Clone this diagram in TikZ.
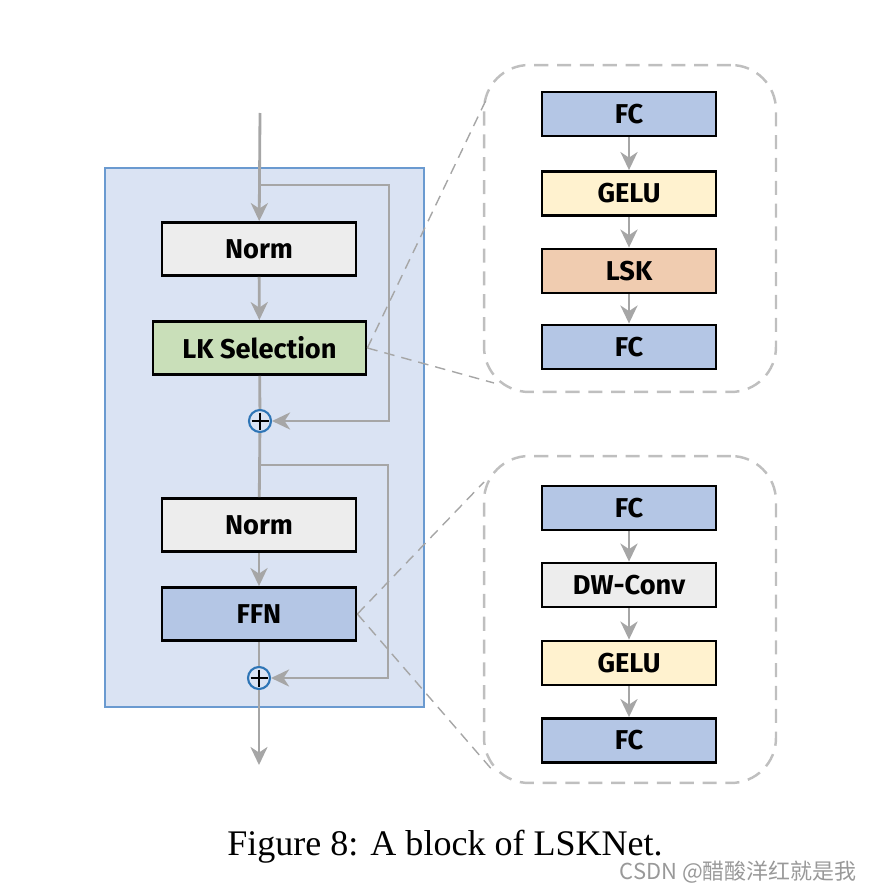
\documentclass[tikz,border=0pt]{standalone}
\usepackage{fontspec}
\setmainfont{Liberation Serif}
\newfontfamily\boxfont{Fira Sans}
\newfontfamily\cjk{Noto Sans CJK SC}
\usetikzlibrary{arrows.meta,calc}

\definecolor{bgblue}{HTML}{DAE3F3}
\definecolor{edgeblue}{HTML}{6A9AD0}
\definecolor{plusblue}{HTML}{2E75B6}
\definecolor{normgray}{HTML}{EDEDED}
\definecolor{lkgreen}{HTML}{C9DFB9}
\definecolor{fcblue}{HTML}{B4C6E5}
\definecolor{geluyellow}{HTML}{FFF2CF}
\definecolor{lskorange}{HTML}{F0CCB0}
\definecolor{arrgray}{HTML}{A6A6A6}
\definecolor{dashgray}{HTML}{BFBFBF}

\begin{document}
\begin{tikzpicture}[x=0.02cm, y=-0.02cm,
		blk/.style={draw=black, line width=1.6pt, minimum width=3.88cm, minimum height=1.06cm,
			inner sep=0pt, font=\boxfont\bfseries\fontsize{15.5}{18}\selectfont},
		sub/.style={blk, minimum width=3.48cm, minimum height=0.88cm},
		arr/.style={draw=arrgray, line width=1.6pt, -{Stealth[length=0.36cm, width=0.34cm, inset=0.11cm]}},
		ln/.style={draw=arrgray, line width=1.6pt},
		plus/.style={circle, draw=plusblue, fill=bgblue, line width=1.2pt, minimum size=0.44cm, inner sep=0pt,
			path picture={
				\draw[black, line width=0.9pt] ($(path picture bounding box.west)+(0.05cm,0)$) -- ($(path picture bounding box.east)+(-0.05cm,0)$);
				\draw[black, line width=0.9pt] ($(path picture bounding box.north)+(0,-0.05cm)$) -- ($(path picture bounding box.south)+(0,0.05cm)$);
		}},
		panel/.style={draw=dashgray, line width=1.4pt, dash pattern=on 8pt off 5pt, rounded corners=0.9cm,
			minimum width=5.84cm, minimum height=6.54cm},
		zoomln/.style={draw=arrgray, line width=0.8pt, dash pattern=on 6pt off 4pt}]
	\useasboundingbox (0,0) rectangle (872,892);
	
	% block
	\node[draw=edgeblue, fill=bgblue, line width=1.6pt, minimum width=6.38cm, minimum height=10.78cm] (block) at (264.5,437.5) {};
	
	\node[blk, fill=normgray] (norma) at (259,249) {Norm};
	\node[blk, fill=lkgreen, minimum width=4.26cm] (lks) at (259.5,348) {LK Selection};
	\node[plus] (plusa) at (260,421) {};
	\node[blk, fill=normgray] (normb) at (259,525) {Norm};
	\node[blk, fill=fcblue] (ffn) at (259,614) {FFN};
	\node[plus] (plusb) at (259,678) {};
	
	\coordinate (in) at (260,113);
	\coordinate (out) at (259,765);
	\coordinate (sa) at (260,185);
	\coordinate (ra) at (389,421);
	\coordinate (sb) at (260,465);
	\coordinate (rb) at (388,678);
	
	\draw[arr] (in) -- (norma);
	\draw[arr] (norma) -- (lks);
	\draw[ln] (lks) -- (plusa);
	\draw[ln] (plusa) -- (normb);
	\draw[arr] (normb) -- (ffn);
	\draw[ln] (ffn) -- (plusb);
	\draw[arr] (plusb) -- (out);
	\draw[arr] (sa) -| (ra) -- (plusa);
	\draw[arr] (sb) -| (rb) -- (plusb);
	
	% zoomed views
	\node[panel] (pa) at (630,228.5) {};
	\node[panel] (pb) at (630,619.5) {};
	
	\node[sub, fill=fcblue] (fca) at (629,114) {FC};
	\node[sub, fill=geluyellow] (gelua) at (629,193.5) {GELU};
	\node[sub, fill=lskorange] (lsk) at (629,271) {LSK};
	\node[sub, fill=fcblue] (fcb) at (629,347) {FC};
	\draw[arr] (fca) -- (gelua);
	\draw[arr] (gelua) -- (lsk);
	\draw[arr] (lsk) -- (fcb);
	
	\node[sub, fill=fcblue] (fcc) at (629,508) {FC};
	\node[sub, fill=normgray] (dw) at (629,585) {DW-Conv};
	\node[sub, fill=geluyellow] (gelub) at (629,663) {GELU};
	\node[sub, fill=fcblue] (fcd) at (629,740.5) {FC};
	\draw[arr] (fcc) -- (dw);
	\draw[arr] (dw) -- (gelub);
	\draw[arr] (gelub) -- (fcd);
	
	\coordinate (pat) at (486,100);
	\coordinate (pab) at (494,383);
	\coordinate (pbt) at (484,482);
	\coordinate (pbb) at (494,772);
	\draw[zoomln] (lks.east) -- (pat);
	\draw[zoomln] (lks.east) -- (pab);
	\draw[zoomln] (ffn.east) -- (pbt);
	\draw[zoomln] (ffn.east) -- (pbb);
	
	\node[font=\fontsize{20.5}{24}\selectfont] (cap) at (445,847) {Figure 8: A block of LSKNet.};
	\node[anchor=east, text=gray!80, font=\cjk\fontsize{12.5}{14}\selectfont, inner sep=0pt] (mark) at (857,872) {CSDN @醋酸洋红就是我};
\end{tikzpicture}
\end{document}
